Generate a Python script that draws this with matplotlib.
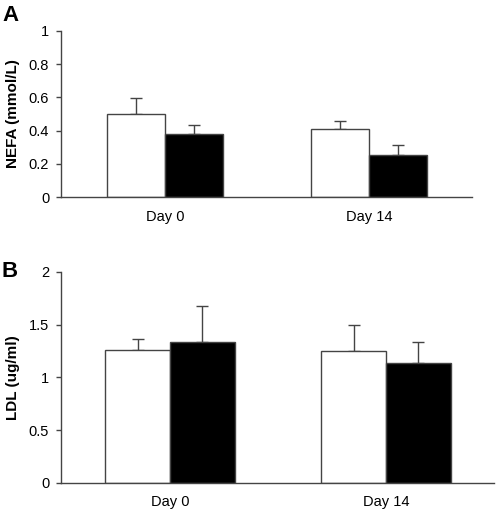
import matplotlib
matplotlib.use('Agg')
import matplotlib.pyplot as plt
import numpy as np

plt.rcParams['font.family'] = ['Liberation Sans', 'DejaVu Sans']

days = ['Day 0', 'Day 14']
# NEFA (mmol/L)
nefa_white = [0.50, 0.408]
nefa_white_err = [0.095, 0.048]
nefa_black = [0.378, 0.251]
nefa_black_err = [0.056, 0.064]
# LDL (ug/ml)
ldl_white = [1.26, 1.254]
ldl_white_err = [0.108, 0.246]
ldl_black = [1.336, 1.134]
ldl_black_err = [0.344, 0.199]

fig = plt.figure(figsize=(4.96, 5.16), dpi=100)
axA = fig.add_axes([0.123, 0.618, 0.8286, 0.322])
axB = fig.add_axes([0.123, 0.064, 0.873, 0.409])

def draw(ax, white, werr, black, berr, width, ylim, yticks, ylabel, xlim):
    x = np.arange(len(days))
    ax.bar(x - width / 2, white, width, color='white', edgecolor='#444444', linewidth=1.0, zorder=2)
    ax.bar(x + width / 2, black, width, color='black', edgecolor='#444444', linewidth=1.0, zorder=2)
    ax.errorbar(x - width / 2, white, yerr=[np.zeros(len(x)), werr], fmt='none',
                ecolor='#444444', elinewidth=1.0, capsize=4, capthick=1.0, zorder=1)
    ax.errorbar(x + width / 2, black, yerr=[np.zeros(len(x)), berr], fmt='none',
                ecolor='#444444', elinewidth=1.0, capsize=4, capthick=1.0, zorder=1)
    ax.set_xlim(*xlim)
    ax.set_ylim(*ylim)
    ax.set_yticks(yticks)
    ax.set_yticklabels([('%g' % t) for t in yticks], fontsize=10.5)
    ax.set_xticks(x)
    ax.set_xticklabels(days, fontsize=10.5)
    ax.tick_params(axis='x', length=0, pad=9)
    ax.tick_params(axis='y', length=3.5, width=1, color='#444444', pad=5)
    for s in ['top', 'right']:
        ax.spines[s].set_visible(False)
    for s in ['left', 'bottom']:
        ax.spines[s].set_color('#444444')
        ax.spines[s].set_linewidth(1.0)
    ax.set_ylabel(ylabel, fontsize=11, fontweight='bold', labelpad=6)

draw(axA, nefa_white, nefa_white_err, nefa_black, nefa_black_err, 0.285,
     (0, 1), [0, 0.2, 0.4, 0.6, 0.8, 1], 'NEFA (mmol/L)', (-0.51, 1.505))
draw(axB, ldl_white, ldl_white_err, ldl_black, ldl_black_err, 0.30,
     (0, 2), [0, 0.5, 1, 1.5, 2], 'LDL (ug/ml)', (-0.505, 1.5))

fig.text(0.004, 0.959, 'A', fontsize=16, fontweight='bold')
fig.text(0.004, 0.463, 'B', fontsize=16, fontweight='bold')

fig.savefig('out.png', dpi=100)
